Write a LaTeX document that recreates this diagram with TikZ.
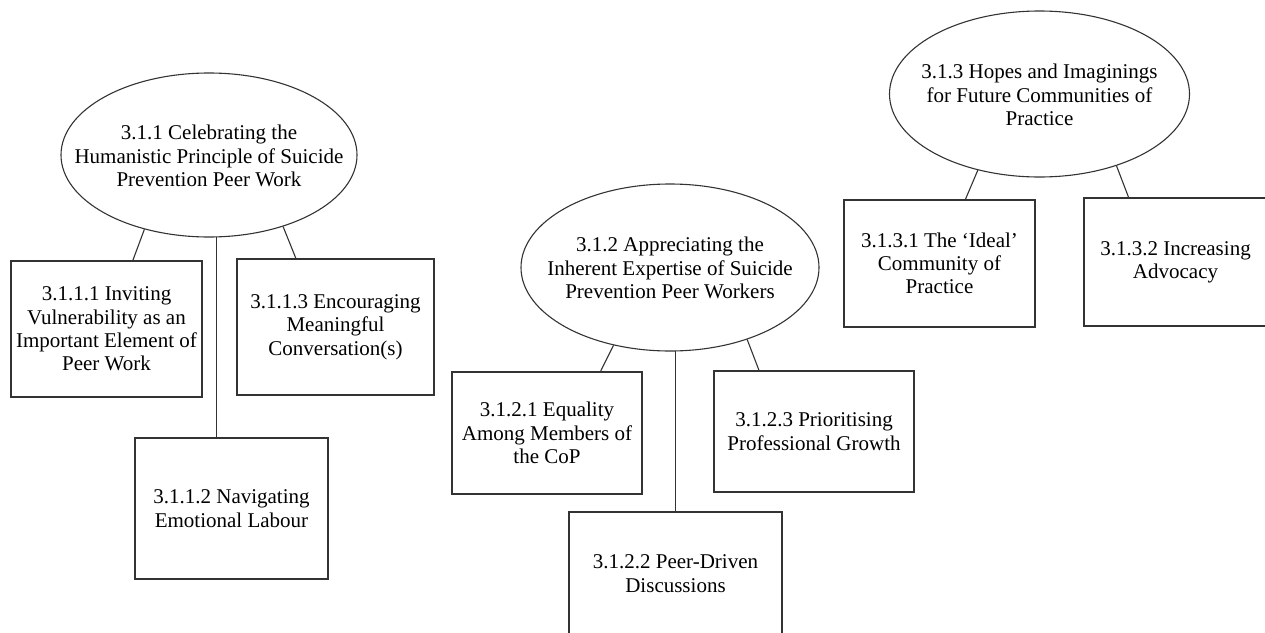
\documentclass[tikz,border=0pt]{standalone}
\usepackage{fontspec}
\setmainfont{Liberation Serif}
\usetikzlibrary{shapes.geometric}
\begin{document}
\begin{tikzpicture}[x=1pt,y=-1pt,
  every node/.style={font=\fontsize{21}{23.3}\selectfont, text=black},
  oval/.style={draw=black!80, line width=1.1pt, ellipse, inner sep=0pt},
  txt/.style={align=center, inner sep=0pt},
  box/.style={draw=black!80, line width=1.1pt, rectangle, inner sep=0pt, align=center},
  link/.style={draw=black!80, line width=1.1pt}]
\useasboundingbox (0,0) rectangle (1265,632);
\clip (0,0) rectangle (1265,632);

% theme 3.1.1
\node[oval, minimum width=296pt, minimum height=164pt] (e1) at (209,155) {};
\node[txt] (e1t) at (209,156) {3.1.1 Celebrating the\\Humanistic Principle of Suicide\\Prevention Peer Work};
\node[box, minimum width=191pt, minimum height=136pt] (b111) at (106.5,329) {3.1.1.1 Inviting\\Vulnerability as an\\Important Element of\\Peer Work};
\node[box, minimum width=197pt, minimum height=136pt] (b113) at (335.5,327) {3.1.1.3 Encouraging\\Meaningful\\Conversation(s)};
\node[box, minimum width=193pt, minimum height=141pt] (b112) at (231.5,508.5) {3.1.1.2 Navigating\\Emotional Labour};
\draw[link] (e1.229.1) -- (b111.69.4);
\draw[link] (e1.316.2) -- (b113.120.2);
\draw[link] (e1.275.6) -- (e1.275.6 |- b112.north);

% theme 3.1.2
\node[oval, minimum width=298pt, minimum height=167pt] (e2) at (670,267.5) {};
\node[txt] (e2t) at (670,268) {3.1.2 Appreciating the\\Inherent Expertise of Suicide\\Prevention Peer Workers};
\node[box, minimum width=190pt, minimum height=122pt] (b121) at (547,433) {3.1.2.1 Equality\\Among Members of\\the CoP};
\node[box, minimum width=200pt, minimum height=121pt] (b123) at (814,431.5) {3.1.2.3 Prioritising\\Professional Growth};
\node[box, minimum width=213pt, minimum height=123pt] (b122) at (675.5,573.5) {3.1.2.2 Peer-Driven\\Discussions};
\draw[link] (e2.234.1) -- (b121.49);
\draw[link] (e2.317.1) -- (b123.132.3);
\draw[link] (e2.274.1) -- (e2.274.1 |- b122.north);

% theme 3.1.3
\node[oval, minimum width=300pt, minimum height=166pt] (e3) at (1039.5,94) {};
\node[txt] (e3t) at (1039.5,95) {3.1.3 Hopes and Imaginings\\for Future Communities of\\Practice};
\node[box, minimum width=191pt, minimum height=127pt] (b131) at (939.5,263.5) {3.1.3.1 The `Ideal'\\Community of\\Practice};
\node[box, minimum width=183pt, minimum height=128pt] (b132) at (1175.5,262) {3.1.3.2 Increasing\\Advocacy};
\draw[link] (e3.231.4) -- (b131.68.1);
\draw[link] (e3.317.5) -- (b132.126);
\end{tikzpicture}
\end{document}
